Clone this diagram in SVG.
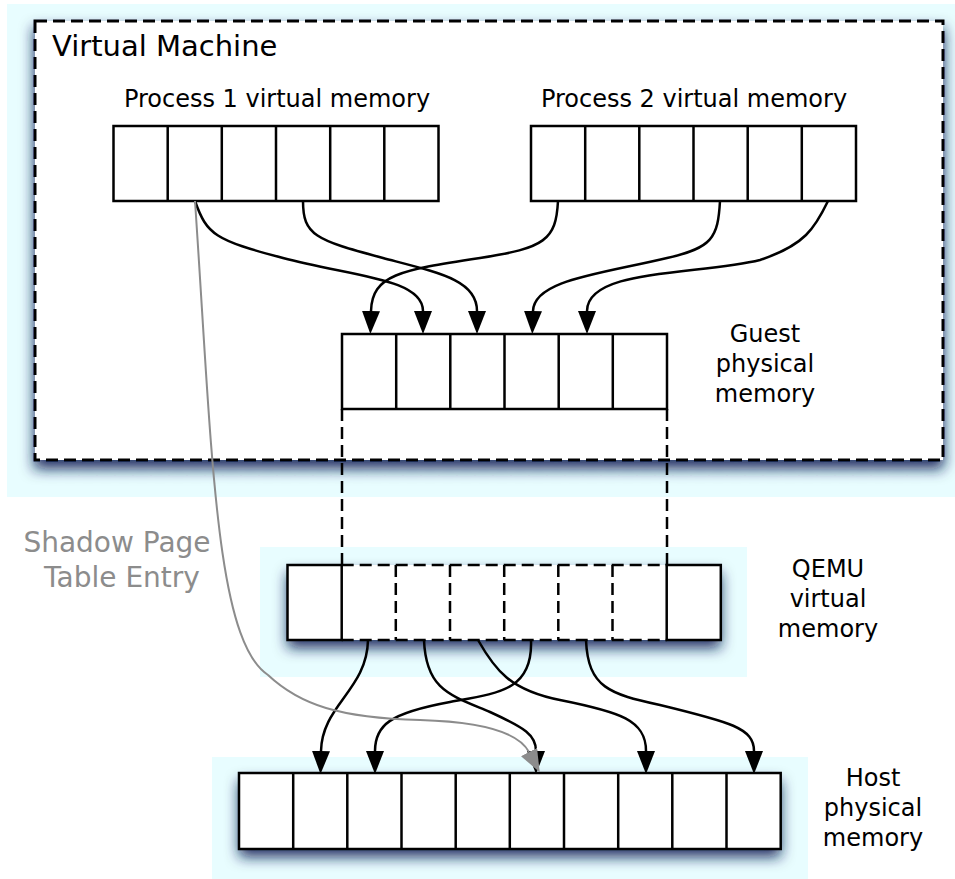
<svg xmlns="http://www.w3.org/2000/svg" width="955" height="879" viewBox="0 0 955 879">
  <defs>
    <filter id="shadow" x="-10%" y="-20%" width="120%" height="160%">
      <feDropShadow dx="0" dy="8" stdDeviation="7" flood-color="#0a1a55" flood-opacity="0.9"/>
    </filter>
    <marker id="arrow" markerUnits="userSpaceOnUse" viewBox="0 0 23 18" markerWidth="23" markerHeight="18" refX="0" refY="9" orient="auto">
      <path d="M0,0 L23,9 L0,18 Z" fill="#000"/>
    </marker>
    <marker id="arrow-gray" markerUnits="userSpaceOnUse" viewBox="0 0 23 18" markerWidth="23" markerHeight="18" refX="0" refY="9" orient="auto">
      <path d="M0,0 L23,9 L0,18 Z" fill="#8c8c8c"/>
    </marker>
  </defs>
  <style>
    .glow { fill: #e8fdff; }
    .frame { fill: #fff; filter: url(#shadow); }
    .cell { fill: #fff; stroke: #000; stroke-width: 2.5; }
    .line { stroke: #000; stroke-width: 2.5; fill: none; }
    .dash { stroke: #000; stroke-width: 2.5; fill: none; stroke-dasharray: 12 6; }
    .vm { fill: #fff; stroke: #000; stroke-width: 3; stroke-dasharray: 12 6; filter: url(#shadow); }
    .label { font-family: "DejaVu Sans", "Liberation Sans", sans-serif; font-size: 24px; fill: #000; }
    .title { font-family: "DejaVu Sans", "Liberation Sans", sans-serif; font-size: 29px; fill: #000; }
    .note { font-family: "DejaVu Sans", "Liberation Sans", sans-serif; font-size: 28px; fill: #8c8c8c; }
    .conn { stroke: #000; stroke-width: 2.5; fill: none; marker-end: url(#arrow); }
    .conn-gray { stroke: #8c8c8c; stroke-width: 2; fill: none; marker-end: url(#arrow-gray); }
  </style>

  <!-- backdrop panels -->
  <rect class="glow" x="7" y="4" width="948" height="493"/>
  <rect class="glow" x="260" y="547" width="487" height="130"/>
  <rect class="glow" x="212" y="757" width="596" height="122"/>

  <!-- virtual machine boundary -->
  <g id="virtual-machine">
    <rect class="vm" x="35" y="21" width="908" height="439"/>
    <text class="title" x="52" y="56">Virtual Machine</text>
  </g>

  <!-- process 1 pages -->
  <g id="process1">
    <text class="label" x="277" y="107" text-anchor="middle" font-size="24.8">Process 1 virtual memory</text>
    <rect class="cell" x="113.5" y="126" width="325" height="75"/>
    <path class="line" d="M167.7,126V201M221.8,126V201M276,126V201M330.2,126V201M384.3,126V201"/>
  </g>

  <!-- process 2 pages -->
  <g id="process2">
    <text class="label" x="694" y="107" text-anchor="middle" font-size="24.8">Process 2 virtual memory</text>
    <rect class="cell" x="531" y="126" width="325" height="75"/>
    <path class="line" d="M585.2,126V201M639.3,126V201M693.5,126V201M747.7,126V201M801.8,126V201"/>
  </g>

  <!-- guest physical memory -->
  <g id="guest-physical">
    <rect class="cell" x="342" y="334" width="325" height="75"/>
    <path class="line" d="M396.2,334V409M450.3,334V409M504.5,334V409M558.7,334V409M612.8,334V409"/>
    <text class="label" x="765" y="342" text-anchor="middle">Guest</text>
    <text class="label" x="765" y="372" text-anchor="middle">physical</text>
    <text class="label" x="765" y="402" text-anchor="middle">memory</text>
  </g>

  <!-- QEMU virtual memory -->
  <g id="qemu-virtual">
    <rect class="frame" x="287.5" y="565" width="433.3" height="75"/>
    <rect class="cell" x="287.5" y="565" width="54.2" height="75"/>
    <rect class="cell" x="666.7" y="565" width="54.1" height="75"/>
    <path class="dash" d="M341.7,565H666.7M341.7,640H666.7"/>
    <path class="dash" d="M395.8,565V640M450,565V640M504.2,565V640M558.3,565V640M612.5,565V640"/>
    <text class="label" x="828" y="577" text-anchor="middle">QEMU</text>
    <text class="label" x="828" y="607" text-anchor="middle">virtual</text>
    <text class="label" x="828" y="637" text-anchor="middle">memory</text>
  </g>

  <!-- host physical memory -->
  <g id="host-physical">
    <rect class="frame" x="239" y="773" width="541.7" height="76"/>
    <rect class="cell" x="239" y="773" width="541.7" height="76"/>
    <path class="line" d="M293.2,773V849M347.3,773V849M401.5,773V849M455.7,773V849M509.8,773V849M564,773V849M618.2,773V849M672.3,773V849M726.5,773V849"/>
    <text class="label" x="873" y="786" text-anchor="middle">Host</text>
    <text class="label" x="873" y="816" text-anchor="middle">physical</text>
    <text class="label" x="873" y="846" text-anchor="middle">memory</text>
  </g>

  <!-- shadow page table label -->
  <g id="shadow-label">
    <text class="note" x="117" y="552" text-anchor="middle">Shadow Page</text>
    <text class="note" x="122" y="587" text-anchor="middle">Table Entry</text>
  </g>

  <!-- connectors -->
  <g id="connectors">
    <!-- guest physical range mapped into QEMU -->
    <path class="dash" d="M342,409V565M667,409V565"/>
    <!-- process pages to guest frames -->
    <path class="conn" d="M195,201 C207,235 215,240 283,258 C350,276 423,278 423,311"/>
    <path class="conn" d="M303,201 C303,235 315,240 383,258 C440,273 477,280 477,311"/>
    <path class="conn" d="M558,201 C556,240 545,248 480,258 C400,270 372,275 371,311"/>
    <path class="conn" d="M720,201 C718,238 712,248 667,258 C600,274 534,280 533,311"/>
    <path class="conn" d="M828,201 C815,228 805,245 760,260 C700,275 587,268 587,311"/>
    <!-- QEMU pages to host frames -->
    <path class="conn" d="M368,640 C367,690 322,705 321,751"/>
    <path class="conn" d="M424,640 C426,690 450,695 490,712 C525,728 536,735 536,751"/>
    <path class="conn" d="M478,640 C495,670 510,690 560,700 C620,712 646,720 646,751"/>
    <path class="conn" d="M531,640 C533,690 500,693 450,702 C390,713 375,725 375,751"/>
    <path class="conn" d="M586,640 C588,688 610,694 660,705 C730,722 754,728 754,751"/>
    <!-- shadow page table entry -->
    <path class="conn-gray" d="M195,201 C212,450 215,640 268,675 C300,705 340,718 420,720 C490,722 520,735 529,752"/>
  </g>
</svg>
